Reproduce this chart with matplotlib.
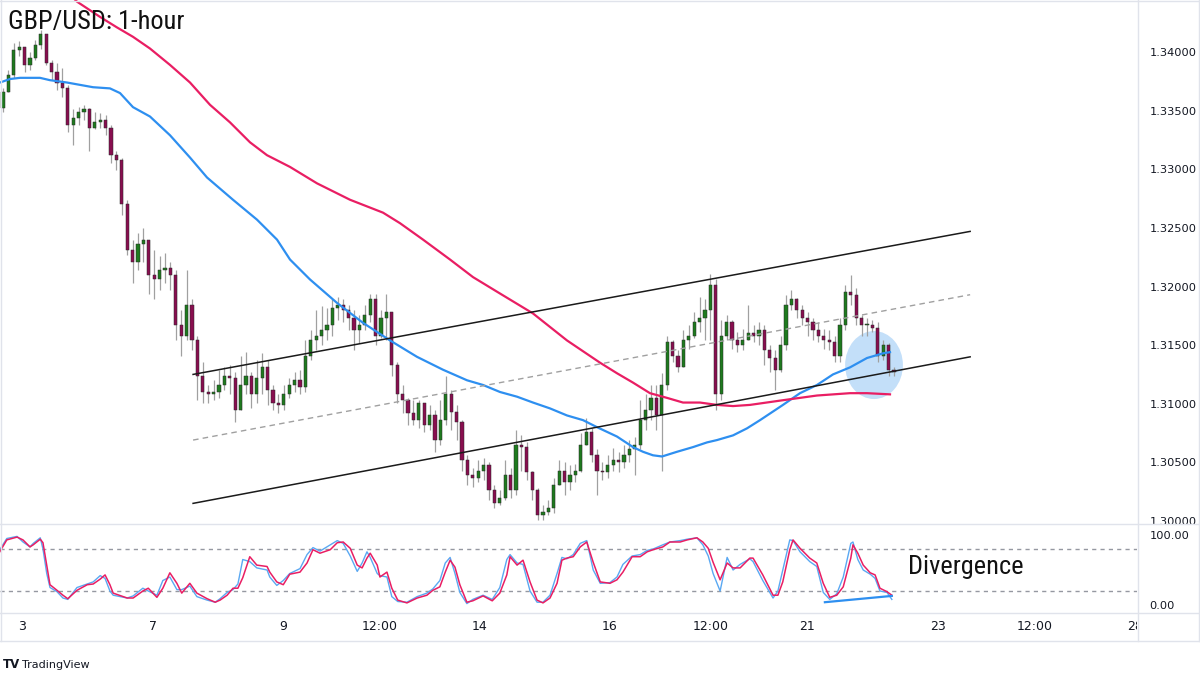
import matplotlib.pyplot as plt
from matplotlib.patches import Ellipse
from matplotlib.lines import Line2D

# 2-hour candles, bar index 0..165
first_open = 1.3352
closes = [
    1.3366, 1.3380, 1.3402, 1.3404, 1.3389, 1.3395, 1.3406, 1.3415, 1.3391, 1.3383,
    1.3374, 1.3369, 1.3338, 1.3344, 1.3349, 1.3351, 1.3335, 1.3340, 1.3342, 1.3335,
    1.3312, 1.3308, 1.3270, 1.3231, 1.3221, 1.3236, 1.3240, 1.3210, 1.3206, 1.3214,
    1.3216, 1.3210, 1.3167, 1.3158, 1.3184, 1.3154, 1.3124, 1.3110, 1.3108, 1.3110,
    1.3116, 1.3124, 1.3122, 1.3095, 1.3116, 1.3124, 1.3108, 1.3122, 1.3131, 1.3112,
    1.3101, 1.3099, 1.3108, 1.3116, 1.3120, 1.3114, 1.3141, 1.3154, 1.3158, 1.3163,
    1.3167, 1.3182, 1.3184, 1.3180, 1.3173, 1.3163, 1.3167, 1.3176, 1.3189, 1.3158,
    1.3173, 1.3178, 1.3133, 1.3108, 1.3103, 1.3092, 1.3086, 1.3101, 1.3082, 1.3090,
    1.3069, 1.3086, 1.3108, 1.3093, 1.3084, 1.3052, 1.3039, 1.3037, 1.3043, 1.3048,
    1.3026, 1.3015, 1.3020, 1.3039, 1.3026, 1.3065, 1.3063, 1.3042, 1.3026, 1.3005,
    1.3008, 1.3011, 1.3031, 1.3043, 1.3033, 1.3039, 1.3043, 1.3065, 1.3076, 1.3056,
    1.3043, 1.3042, 1.3048, 1.3052, 1.3050, 1.3056, 1.3061, 1.3065, 1.3086, 1.3095,
    1.3105, 1.3090, 1.3116, 1.3153, 1.3141, 1.3131, 1.3154, 1.3158, 1.3170, 1.3173,
    1.3180, 1.3201, 1.3108, 1.3158, 1.3170, 1.3154, 1.3150, 1.3154, 1.3160, 1.3158,
    1.3163, 1.3146, 1.3139, 1.3129, 1.3150, 1.3184, 1.3189, 1.3180, 1.3173, 1.3170,
    1.3163, 1.3158, 1.3154, 1.3153, 1.3141, 1.3167, 1.3195, 1.3193, 1.3173, 1.3167,
    1.3167, 1.3165, 1.3141, 1.3150, 1.3129, 1.3127]
highs = [
    1.3369, 1.3385, 1.3408, 1.3409, 1.3403, 1.3400, 1.3410, 1.3419, 1.3412, 1.3393,
    1.3391, 1.3386, 1.3372, 1.3351, 1.3353, 1.3355, 1.3352, 1.3349, 1.3348, 1.3346,
    1.3338, 1.3316, 1.3310, 1.3274, 1.3240, 1.3246, 1.3250, 1.3240, 1.3231, 1.3226,
    1.3229, 1.3221, 1.3214, 1.3180, 1.3214, 1.3189, 1.3158, 1.3136, 1.3116, 1.3120,
    1.3129, 1.3131, 1.3133, 1.3127, 1.3141, 1.3144, 1.3127, 1.3137, 1.3143, 1.3137,
    1.3116, 1.3108, 1.3116, 1.3122, 1.3127, 1.3129, 1.3154, 1.3163, 1.3180, 1.3183,
    1.3182, 1.3189, 1.3191, 1.3189, 1.3184, 1.3180, 1.3176, 1.3184, 1.3194, 1.3194,
    1.3180, 1.3194, 1.3178, 1.3136, 1.3116, 1.3105, 1.3103, 1.3103, 1.3101, 1.3099,
    1.3095, 1.3103, 1.3124, 1.3112, 1.3099, 1.3086, 1.3056, 1.3045, 1.3052, 1.3054,
    1.3050, 1.3031, 1.3026, 1.3052, 1.3045, 1.3078, 1.3073, 1.3067, 1.3043, 1.3028,
    1.3014, 1.3018, 1.3037, 1.3052, 1.3050, 1.3048, 1.3049, 1.3075, 1.3088, 1.3079,
    1.3061, 1.3050, 1.3056, 1.3062, 1.3059, 1.3065, 1.3069, 1.3072, 1.3103, 1.3108,
    1.3116, 1.3116, 1.3126, 1.3158, 1.3154, 1.3146, 1.3163, 1.3167, 1.3178, 1.3191,
    1.3189, 1.3211, 1.3206, 1.3171, 1.3176, 1.3171, 1.3161, 1.3164, 1.3184, 1.3167,
    1.3170, 1.3167, 1.3150, 1.3146, 1.3158, 1.3193, 1.3197, 1.3190, 1.3184, 1.3178,
    1.3173, 1.3170, 1.3164, 1.3163, 1.3158, 1.3173, 1.3201, 1.3210, 1.3199, 1.3176,
    1.3173, 1.3171, 1.3170, 1.3154, 1.3152, 1.3131]
lows = [
    1.3349, 1.3366, 1.3378, 1.3397, 1.3383, 1.3385, 1.3393, 1.3403, 1.3389, 1.3376,
    1.3368, 1.3362, 1.3332, 1.3321, 1.3338, 1.3342, 1.3316, 1.3334, 1.3335, 1.3329,
    1.3305, 1.3299, 1.3261, 1.3227, 1.3203, 1.3214, 1.3221, 1.3194, 1.3189, 1.3197,
    1.3203, 1.3197, 1.3154, 1.3141, 1.3154, 1.3146, 1.3103, 1.3101, 1.3101, 1.3103,
    1.3105, 1.3112, 1.3108, 1.3084, 1.3095, 1.3108, 1.3096, 1.3101, 1.3108, 1.3099,
    1.3095, 1.3092, 1.3095, 1.3105, 1.3110, 1.3108, 1.3110, 1.3137, 1.3146, 1.3150,
    1.3154, 1.3158, 1.3171, 1.3170, 1.3163, 1.3146, 1.3152, 1.3163, 1.3170, 1.3150,
    1.3156, 1.3154, 1.3124, 1.3101, 1.3092, 1.3082, 1.3082, 1.3079, 1.3076, 1.3078,
    1.3059, 1.3065, 1.3082, 1.3078, 1.3069, 1.3043, 1.3031, 1.3029, 1.3033, 1.3035,
    1.3018, 1.3011, 1.3014, 1.3018, 1.3020, 1.3022, 1.3043, 1.3035, 1.3018, 1.3001,
    1.3001, 1.3005, 1.3007, 1.3031, 1.3022, 1.3026, 1.3033, 1.3042, 1.3065, 1.3050,
    1.3022, 1.3035, 1.3037, 1.3043, 1.3042, 1.3045, 1.3050, 1.3039, 1.3061, 1.3078,
    1.3086, 1.3078, 1.3043, 1.3112, 1.3136, 1.3127, 1.3131, 1.3147, 1.3156, 1.3161,
    1.3154, 1.3154, 1.3095, 1.3103, 1.3154, 1.3147, 1.3144, 1.3146, 1.3154, 1.3153,
    1.3150, 1.3133, 1.3127, 1.3112, 1.3127, 1.3146, 1.3180, 1.3173, 1.3167, 1.3158,
    1.3154, 1.3153, 1.3147, 1.3146, 1.3136, 1.3136, 1.3163, 1.3184, 1.3167, 1.3158,
    1.3158, 1.3161, 1.3136, 1.3137, 1.3124, 1.3124]

# moving averages (bar index, price)
ma_fast_x = [-0.56, 1.3, 3.15, 6.85, 8.7, 11.85, 16.67, 19.81, 21.67, 24.07, 27.22, 30.93,
             34.63, 37.78, 42.59, 47.04, 50.74, 53.15, 56.85, 61.85, 66.67, 71.67, 76.67,
             81.48, 85.93, 88.89, 92.04, 95.19, 98.15, 101.3, 104.44, 107.41, 110.0, 113.7,
             116.67, 118.52, 120.37, 122.04, 124.81, 127.78, 130.37, 132.22, 135.19, 137.78,
             140.19, 144.44, 147.59, 150.74, 153.7, 156.85, 160.0, 162.96, 164.26]
ma_fast = [1.3374, 1.3377, 1.3378, 1.3378, 1.3376, 1.3374, 1.3370, 1.3369, 1.3365, 1.3353,
           1.3345, 1.3329, 1.3310, 1.3293, 1.3274, 1.3257, 1.3240, 1.3223, 1.3206, 1.3186,
           1.3169, 1.3154, 1.3140, 1.3129, 1.3120, 1.3116, 1.3110, 1.3106, 1.3101, 1.3096,
           1.3090, 1.3086, 1.3080, 1.3072, 1.3063, 1.3059, 1.3056, 1.3055, 1.3059, 1.3063,
           1.3067, 1.3069, 1.3073, 1.3079, 1.3086, 1.3099, 1.3109, 1.3116, 1.3125, 1.3131,
           1.3139, 1.3143, 1.3144]
ma_slow_x = [12.41, 13.7, 17.96, 21.11, 24.07, 27.22, 30.93, 34.63, 38.33, 42.04, 45.74,
             48.89, 53.15, 58.15, 64.26, 70.37, 73.52, 77.78, 82.78, 87.04, 92.04, 98.15,
             104.44, 110.56, 113.7, 116.67, 119.81, 122.96, 125.93, 129.07, 132.22, 135.19,
             138.33, 144.44, 150.74, 156.85, 160.0, 164.26]
ma_slow = [1.3449, 1.3443, 1.3430, 1.3421, 1.3413, 1.3403, 1.3389, 1.3374, 1.3355, 1.3340,
           1.3323, 1.3312, 1.3302, 1.3288, 1.3274, 1.3263, 1.3254, 1.3240, 1.3223, 1.3208,
           1.3194, 1.3177, 1.3154, 1.3135, 1.3126, 1.3118, 1.3109, 1.3105, 1.3101, 1.3101,
           1.3099, 1.3098, 1.3099, 1.3103, 1.3107, 1.3109, 1.3109, 1.3108]

# rising channel
chan_x = [35.2, 179.1]
chan_upper = [1.3125, 1.3247]
chan_mid = [1.3069, 1.3193]
chan_lower = [1.3015, 1.3140]

# stochastic
stoch_x = [-0.6, 0.7, 2.6, 3.7, 5.0, 5.6, 6.9, 7.4, 8.1, 8.7,
           10.0, 11.1, 12.0, 13.7, 15.6, 16.7, 18.0, 18.9, 19.8, 20.4,
           23.0, 24.1, 25.9, 26.9, 28.5, 29.6, 30.9, 32.2, 33.1, 34.6,
           35.9, 37.8, 39.3, 40.2, 41.5, 42.6, 43.5, 44.4, 45.7, 47.0,
           48.9, 49.4, 50.7, 51.9, 53.1, 55.0, 56.3, 57.4, 58.7, 60.6,
           61.9, 63.0, 64.3, 65.6, 66.5, 67.4, 68.0, 69.3, 69.8, 71.1,
           72.0, 73.1, 74.8, 76.7, 78.5, 79.6, 80.9, 81.9, 82.8, 83.7,
           84.6, 85.9, 87.0, 88.9, 90.6, 92.0, 93.3, 93.9, 95.2, 96.3,
           97.6, 98.9, 100.0, 101.3, 102.6, 103.5, 104.4, 105.6, 106.9, 108.1,
           109.3, 110.6, 112.4, 113.7, 114.8, 116.5, 118.0, 119.3, 120.4, 122.2,
           123.5, 125.4, 126.7, 128.5, 129.6, 130.6, 131.5, 132.8, 134.1, 135.2,
           136.5, 138.3, 138.9, 140.7, 142.6, 143.5, 144.4, 145.7, 146.3, 147.6,
           149.4, 150.7, 151.9, 153.1, 154.4, 155.6, 157.0, 157.4, 158.3, 159.3,
           160.6, 161.5, 162.4, 163.7, 164.6]
stoch_k = [79, 95, 98, 90, 83, 88, 96, 80, 45, 25,
           19, 10, 8, 25, 30, 33, 42, 38, 20, 14,
           10, 13, 24, 20, 14, 35, 40, 22, 22, 27,
           12, 7, 4, 9, 18, 22, 30, 65, 62, 53,
           50, 40, 28, 35, 45, 52, 72, 82, 77, 86,
           92, 88, 70, 48, 60, 76, 68, 45, 42, 40,
           12, 5, 4, 12, 17, 23, 35, 60, 68, 45,
           18, 2, 8, 14, 8, 25, 65, 72, 60, 58,
           20, 4, 4, 14, 45, 68, 66, 72, 88, 92,
           50, 31, 32, 40, 58, 70, 72, 78, 80, 86,
           90, 92, 94, 96, 86, 70, 45, 20, 68, 50,
           58, 66, 62, 35, 10, 20, 50, 93, 92, 76,
           62, 55, 18, 8, 16, 40, 88, 90, 65, 50,
           44, 38, 20, 18, 8]
stoch_d = [76, 93, 97, 93, 83, 86, 94, 89, 57, 29,
           21, 14, 9, 21, 29, 30, 37, 43, 29, 17,
           10, 10, 20, 24, 11, 24, 46, 31, 17, 31,
           17, 9, 4, 7, 14, 24, 24, 39, 69, 57,
           55, 47, 33, 29, 44, 47, 60, 79, 74, 79,
           89, 90, 81, 57, 53, 67, 74, 57, 40, 47,
           24, 7, 3, 10, 14, 21, 26, 47, 64, 54,
           29, 4, 6, 13, 6, 17, 43, 69, 57, 64,
           33, 7, 3, 10, 31, 64, 67, 69, 83, 90,
           61, 33, 31, 36, 47, 69, 69, 76, 79, 83,
           90, 90, 93, 96, 90, 81, 61, 36, 60, 53,
           53, 67, 67, 43, 14, 14, 33, 79, 93, 81,
           67, 60, 31, 11, 14, 26, 67, 86, 74, 57,
           46, 43, 24, 19, 14]
div_x = [152.2, 164.6]
div_v = [4, 13]

price_ticks = [1.300, 1.305, 1.310, 1.315, 1.320, 1.325, 1.330, 1.335, 1.340]
time_pos = [3.5, 27.8, 51.9, 69.8, 88.3, 112.4, 131.1, 148.9, 173.1, 191.1, 209.6]
time_labels = ['3', '7', '9', '12:00', '14', '16', '12:00', '21', '23', '12:00', '28']

UP = '#1e7a1e'
DOWN = '#880e4f'
WICK = '#a0a0a0'
GRID = '#e0e3eb'
TXT = '#131722'
NARROW = ['Roboto Condensed', 'Liberation Sans Narrow', 'Roboto', 'DejaVu Sans']

fig = plt.figure(figsize=(12, 6.75), dpi=100)
W, H = 1200, 675
ax = fig.add_axes([0, 151 / H, 1137 / W, 524 / H])
axs = fig.add_axes([0, 62 / H, 1137 / W, 89 / H])
axt = fig.add_axes([0, 34 / H, 1137 / W, 28 / H])

xlim = (-0.556, 210.0)

# candles
opens = [first_open] + closes[:-1]
for i, (o, h, l, c) in enumerate(zip(opens, highs, lows, closes)):
    hi = max(h, o, c)
    lo = min(l, o, c)
    ax.vlines(i, lo, hi, color=WICK, linewidth=0.9, zorder=2)
    col = UP if c >= o else DOWN
    ax.bar(i, max(abs(c - o), 0.00006), bottom=min(o, c), width=0.6,
           color=col, edgecolor='#2a2a2a', linewidth=0.35, zorder=2.5)

ax.plot(ma_fast_x, ma_fast, color='#2e8ff0', linewidth=1.6, zorder=3)
ax.plot(ma_slow_x, ma_slow, color='#e91e63', linewidth=1.6, zorder=3)

ax.plot(chan_x, chan_upper, color='#1a1a1a', linewidth=1.1, zorder=3)
ax.plot(chan_x, chan_lower, color='#1a1a1a', linewidth=1.1, zorder=3)
ax.plot(chan_x, chan_mid, color='#a0a0a0', linewidth=1.0, linestyle=(0, (4, 3)), zorder=3)

ax.add_patch(Ellipse((161.3, 1.3133), 10.7, 0.0058, facecolor='#9ccaf5',
                     edgecolor='none', alpha=0.6, zorder=1))

ax.set_xlim(*xlim)
ax.set_ylim(1.29974, 1.34444)
ax.yaxis.tick_right()
ax.set_yticks(price_ticks)
ax.set_yticklabels([f'{t:.5f}' for t in price_ticks])
ax.tick_params(axis='y', length=0, pad=9, labelsize=8.2, labelcolor=TXT)
ax.set_xticks([])
for s in ax.spines.values():
    s.set_visible(False)

# stochastic panel
axs.plot(stoch_x, stoch_k, color='#5aa8f2', linewidth=1.0, zorder=3)
axs.plot(stoch_x, stoch_d, color='#e91e63', linewidth=1.1, zorder=3)
axs.axhline(80, color='#9598a1', linewidth=1.0, linestyle=(0, (3, 3)))
axs.axhline(20, color='#9598a1', linewidth=1.0, linestyle=(0, (3, 3)))
axs.plot(div_x, div_v, color='#2e8ff0', linewidth=1.6, zorder=4)
axs.text(167.6, 54, 'Divergence', fontsize=19, family=NARROW, color='#111111',
         ha='left', va='center')
axs.set_xlim(*xlim)
axs.set_ylim(-11.4, 115.7)
axs.yaxis.tick_right()
axs.set_yticks([100, 0])
axs.set_yticklabels(['100.00', '0.00'])
axs.tick_params(axis='y', length=0, pad=9, labelsize=8.2, labelcolor=TXT)
axs.set_xticks([])
for s in axs.spines.values():
    s.set_visible(False)

# time axis band
axt.set_xlim(*xlim)
axt.set_ylim(0, 1)
axt.axis('off')
for p, lab in zip(time_pos, time_labels):
    axt.text(p, 0.5, lab, fontsize=9, color=TXT, ha='center', va='center', clip_on=True)

# frame lines
def fline(x0, y0, x1, y1):
    fig.add_artist(Line2D([x0 / W, x1 / W], [1 - y0 / H, 1 - y1 / H],
                          color=GRID, linewidth=1.0, transform=fig.transFigure))

fline(0, 524, W, 524)
fline(0, 613, W, 613)
fline(0, 641, W, 641)
fline(1137.5, 0, 1137.5, 641)
fline(1, 0, 1, 641)
fline(0, 1, W, 1)
fline(W - 1, 0, W - 1, 641)

fig.text(8 / W, 1 - 22 / H, 'GBP/USD: 1-hour', fontsize=19, family=NARROW,
         color='#111111', ha='left', va='center')
fig.text(3 / W, 1 - 665 / H, 'TV', fontsize=8.5, fontweight='heavy', color=TXT,
         ha='left', va='center')
fig.text(22 / W, 1 - 665 / H, 'TradingView', fontsize=8, color=TXT,
         ha='left', va='center')

fig.savefig('out.png', dpi=100, facecolor='white')
